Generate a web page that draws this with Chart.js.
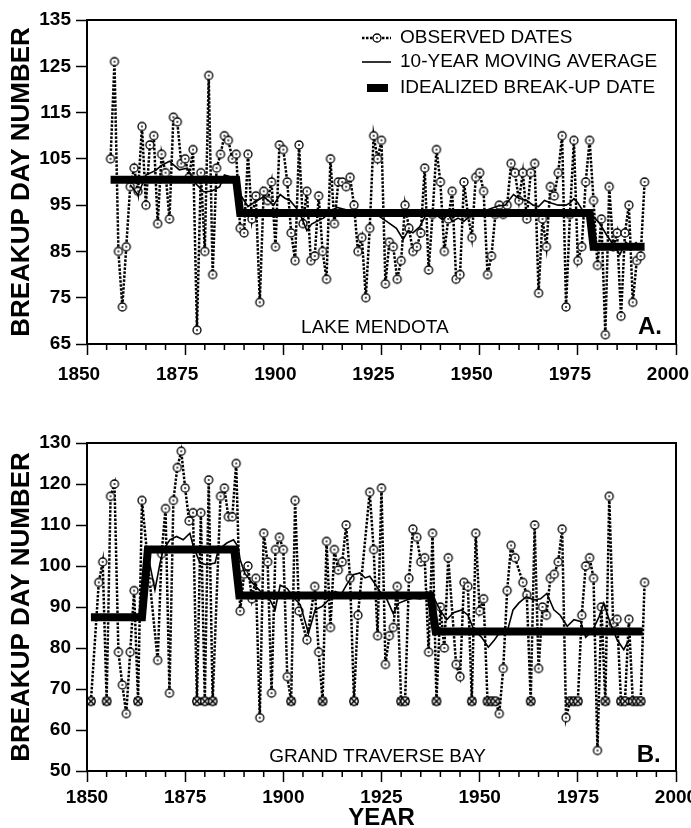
<!DOCTYPE html>
<html>
<head>
<meta charset="utf-8">
<script src="https://cdn.jsdelivr.net/npm/chart.js@4.4.1/dist/chart.umd.min.js"></script>
<style>
  body { margin: 0; background: #fff; }
  #wrapA { position: absolute; left: 0; top: 0; width: 691px; height: 392px; }
  #wrapB { position: absolute; left: 0; top: 392px; width: 691px; height: 436px; }
</style>
</head>
<body>
<div id="wrapA"><canvas id="chartA" width="691" height="392"></canvas></div>
<div id="wrapB"><canvas id="chartB" width="691" height="436"></canvas></div>
<script>
// ---- Lake Mendota (panel A) ----
var mendotaFirstYear = 1856;
var mendotaObserved = [
  105,126,85,73,86,99,103,98,112,95,
  108,110,91,106,102,92,114,113,104,105,
  101,107,68,102,85,123,80,103,106,110,
  109,105,106,90,89,106,92,97,74,98,
  96,100,86,108,107,100,89,83,108,91,
  98,83,84,97,85,79,105,91,100,100,
  99,101,95,85,88,75,90,110,105,109,
  78,87,86,79,83,95,90,85,86,89,
  103,81,93,107,100,85,92,98,79,80,
  100,93,88,101,102,98,80,84,93,95,
  93,95,104,102,96,102,92,102,104,76,
  92,86,99,97,102,110,73,93,109,83,
  86,100,109,96,82,92,67,99,86,89,
  71,89,95,74,83,84,100
];
var mendotaAvgYears = [1861,1863,1865,1867.5,1869,1871,1873.5,1875.5,1877.6,1879.7,
  1881.7,1883.8,1885,1887,1888.5,1890,1891,1892.4,1895,1896.2,
  1897.5,1899.2,1900.4,1901.7,1903.4,1904.7,1906,1907.2,1908.5,1910.2,
  1911.9,1913.6,1916,1918.7,1921.2,1923.7,1926.3,1928.8,1930.5,1931.8,
  1933,1934.7,1936.4,1938,1940.6,1942,1943,1944.5,1946,1948,
  1950,1952,1954.7,1956.5,1958.6,1960,1962,1963.6,1965,1966.5,
  1968,1970,1972,1973,1974,1975,1976.5,1978,1979,1980.6,
  1982.3,1984,1985.7,1987.2,1988.5,1990];
var mendotaAvg = [99.4,97.2,101.5,102.5,103.6,104.5,102.6,103,99.7,97.9,
  98,99,101.5,101,98,96,94.7,95.5,96.8,96,
  95,97.3,96.5,96,94.3,92.2,89.5,90.9,91.5,92.2,
  93.5,94.5,94,93.5,93.8,93,91.5,90,87.6,89.5,
  89,90.3,93,93.5,91.8,93,91.5,92.2,91.5,93,
  93.5,94,94.8,95,97.3,96.5,96,95,94.7,96,
  95.5,95,95,95.5,96.4,95.5,93.5,93,92.5,91,
  88.6,86.5,84.3,87,86,87];
var mendotaIdealYears = [1856, 1888, 1889, 1978, 1979, 1992];
var mendotaIdeal = [100.5, 100.5, 93.3, 93.3, 86, 86];

// ---- Grand Traverse Bay (panel B) ----
var gtbYears = [1851,1853,1854,1855,1856,1857,1858,1859,1860,1861,1862,1863,1864,1866,1868,1869,1870,
  1871,1872,1873,1874,1875,1876,1877,1878,1879,1880,1881,1882,1884,1885,1886,1887,1888,1889,
  1890,1891,1892,1893,1894,1895,1896,1897,1898,1899,1900,1901,1902,1903,1904,1906,1908,1909,
  1910,1911,1912,1913,1914,1915,1916,1917,1918,1919,1922,1923,1924,1925,1926,1927,1928,1929,
  1930,1931,1932,1933,1934,1935,1936,1937,1938,1939,1940,1941,1942,1944,1945,1946,1947,1948,1949,
  1950,1951,1952,1953,1954,1955,1956,1957,1958,1959,1961,1962,1963,1964,1965,1966,1967,1968,1969,
  1970,1971,1972,1973,1974,1975,1976,1977,1978,1979,1980,1981,1982,1983,1984,1985,1986,1987,1988,
  1989,1990,1991,1992];
var gtbObserved = [67,96,101,67,117,120,79,71,64,79,94,67,116,96,77,103,114,
  69,116,124,128,119,111,113,67,113,67,121,67,117,119,112,112,125,89,
  98,100,92,97,63,108,101,69,104,107,104,73,67,116,89,82,95,79,
  67,106,85,104,99,101,110,97,67,88,118,104,83,119,76,83,85,95,
  67,67,97,109,107,101,102,79,108,67,90,80,102,76,73,96,95,67,108,
  89,92,67,67,67,64,75,94,105,102,96,93,67,110,75,90,88,97,98,
  101,109,63,67,67,67,88,100,102,97,55,90,67,117,86,87,67,67,87,
  67,67,67,96];
// winters plotted with the crossed symbol
var gtbNoBreakupYears = [1851,1855,1863,1878,1880,1882,1902,1910,1918,1930,1931,1939,1948,
  1952,1953,1954,1963,1973,1974,1975,1982,1986,1987,1989,1990,1991];
var gtbAvgYears = [1857.5,1862,1864,1865.2,1866.1,1867.3,1868.6,1869.4,1871.1,1872.8,
  1874.5,1876.2,1877.1,1878.8,1880.5,1882.6,1883.4,1885.6,1887.3,1888.5,
  1889,1890.2,1892,1894,1896.6,1897.9,1899.2,1901,1902.6,1904.3,
  1906.4,1908.1,1909.8,1911.5,1913.2,1914.8,1916.1,1917.8,1919.5,1920.8,
  1922,1923.5,1924.6,1926.3,1928,1929.3,1931.4,1933.1,1935,1936.5,
  1938.2,1939.9,1941.6,1943.3,1945.4,1947,1948.5,1950.5,1952.2,1953.8,
  1955.6,1957,1958.5,1960,1961.9,1963.8,1965.5,1967.1,1968.9,1970.5,
  1972.3,1974,1975.7,1977,1978.7,1980.4,1981.6,1983.3,1985,1986.7,1988];
var gtbAvg = [87.5,87,87.5,103.9,99.9,94.2,100.7,103.9,106.4,107.2,
  106.4,108,104.7,100.7,100.3,100.7,103.9,105.6,106.4,104.7,
  101.5,98.2,96,94,91.7,89.3,95.3,94.5,92.3,90.6,
  83.6,89.3,90.1,91.7,93.8,93.2,95.4,97.9,98.3,97.1,
  97.5,95.4,93.8,92,88.4,90.9,91.7,92.2,92,93.8,
  92.5,89.3,86.9,88.6,89.3,88,84.5,82.6,80.2,82,
  84.5,84,89.3,91,92.5,91.7,92,93.3,89.3,88,
  85.3,86.9,86.5,82.6,84.2,87.6,90.9,86,82,79.6,82];
var gtbIdealYears = [1851, 1864, 1865.5, 1887.5, 1888.8, 1937.5, 1938.8, 1991.5];
var gtbIdeal = [87.5, 87.5, 104, 104, 92.8, 92.8, 84, 84];

var seriesLabels = ['OBSERVED DATES', '10-YEAR MOVING AVERAGE', 'IDEALIZED BREAK-UP DATE'];

var FONT = "'Liberation Sans', Arial, Helvetica, sans-serif";
Chart.defaults.font.family = FONT;
Chart.defaults.color = '#000';

function zip(xs, ys) {
  var out = [];
  for (var i = 0; i < xs.length; i++) out.push({ x: xs[i], y: ys[i] });
  return out;
}

// open circle with a dot in the middle
function circleMarker() {
  var c = document.createElement('canvas');
  c.width = 12; c.height = 12;
  var g = c.getContext('2d');
  g.beginPath(); g.arc(6, 6, 4, 0, Math.PI * 2);
  g.fillStyle = '#fff'; g.fill();
  g.lineWidth = 1.3; g.strokeStyle = '#000'; g.stroke();
  g.beginPath(); g.arc(6, 6, 0.9, 0, Math.PI * 2);
  g.fillStyle = '#000'; g.fill();
  return c;
}
// circle with a cross (no break-up year)
function crossMarker() {
  var c = document.createElement('canvas');
  c.width = 12; c.height = 12;
  var g = c.getContext('2d');
  g.beginPath(); g.arc(6, 6, 4.2, 0, Math.PI * 2);
  g.fillStyle = '#fff'; g.fill();
  g.lineWidth = 1.5; g.strokeStyle = '#000'; g.stroke();
  g.beginPath();
  g.moveTo(2.3, 2.3); g.lineTo(9.7, 9.7);
  g.moveTo(9.7, 2.3); g.lineTo(2.3, 9.7);
  g.stroke();
  return c;
}
var circleImg = circleMarker();
var crossImg = crossMarker();

var panelPlugin = {
  id: 'panel',
  afterDraw: function (chart, args, opts) {
    var ctx = chart.ctx, a = chart.chartArea;
    var xs = chart.scales.x, ys = chart.scales.y;
    ctx.save();
    // frame
    ctx.strokeStyle = '#000';
    ctx.lineWidth = 2;
    ctx.strokeRect(a.left, a.top, a.right - a.left, a.bottom - a.top);
    // minor year ticks
    ctx.lineWidth = 1.5;
    ctx.beginPath();
    for (var yr = 1855; yr < 2000; yr += 5) {
      if (yr % 25 === 0) continue;
      var px = xs.getPixelForValue(yr);
      ctx.moveTo(px, a.bottom);
      ctx.lineTo(px, a.bottom + 6);
    }
    ctx.stroke();
    // lake name and panel letter
    ctx.fillStyle = '#000';
    ctx.textBaseline = 'middle';
    ctx.textAlign = 'center';
    ctx.font = '19px ' + FONT;
    ctx.fillText(opts.name, xs.getPixelForValue(opts.nameAt[0]), ys.getPixelForValue(opts.nameAt[1]));
    ctx.textAlign = 'left';
    ctx.font = 'bold 24px ' + FONT;
    ctx.fillText(opts.letter, xs.getPixelForValue(opts.letterAt[0]), ys.getPixelForValue(opts.letterAt[1]));
    // legend inside the plot
    if (opts.legend) {
      var x0 = a.left + 275, x1 = a.left + 304, tx = a.left + 313;
      var rows = [a.top + 18, a.top + 42, a.top + 68];
      ctx.font = '19px ' + FONT;
      ctx.textAlign = 'left';
      // observed
      ctx.lineWidth = 2.5;
      ctx.setLineDash([2.5, 1.5]);
      ctx.beginPath(); ctx.moveTo(x0, rows[0]); ctx.lineTo(x1, rows[0]); ctx.stroke();
      ctx.setLineDash([]);
      ctx.drawImage(circleImg, Math.round((x0 + x1) / 2 - 6), Math.round(rows[0] - 6));
      ctx.fillText(seriesLabels[0], tx, rows[0]);
      // moving average
      ctx.lineWidth = 1.6;
      ctx.beginPath(); ctx.moveTo(x0, rows[1]); ctx.lineTo(x1, rows[1]); ctx.stroke();
      ctx.fillText(seriesLabels[1], tx, rows[1]);
      // idealized
      ctx.fillRect(x0 + 5, rows[2] - 4, x1 - x0 - 8, 8);
      ctx.fillText(seriesLabels[2], tx, rows[2]);
    }
    ctx.restore();
  }
};

function plainNumber(v) { return String(v); }

function makePanel(id, p) {
  return new Chart(document.getElementById(id), {
    type: 'line',
    data: {
      datasets: [
        {
          label: seriesLabels[0],
          data: p.observed,
          borderColor: '#000',
          borderWidth: 2.5,
          borderDash: [2.5, 1.5],
          pointStyle: function (c) {
            return (c.raw && p.crossYears.indexOf(c.raw.x) >= 0) ? crossImg : circleImg;
          },
          pointRadius: 4,
          tension: 0,
          order: 3
        },
        {
          label: seriesLabels[2],
          data: p.ideal,
          borderColor: '#000',
          borderWidth: 8,
          borderCapStyle: 'butt',
          borderJoinStyle: 'miter',
          pointRadius: 0,
          tension: 0,
          order: 2
        },
        {
          label: seriesLabels[1],
          data: p.avg,
          borderColor: '#000',
          borderWidth: 1.6,
          pointRadius: 0,
          tension: 0,
          order: 1
        }
      ]
    },
    options: {
      responsive: false,
      animation: false,
      events: [],
      layout: { padding: { top: p.padTop, right: 15, left: 0, bottom: 0 } },
      plugins: {
        legend: { display: false },
        tooltip: { enabled: false },
        panel: p.panel
      },
      scales: {
        x: {
          type: 'linear',
          min: 1850,
          max: 2000,
          ticks: {
            stepSize: 25,
            autoSkip: false,
            maxRotation: 0,
            padding: p.xPad,
            labelOffset: p.labelOffset,
            color: '#000',
            font: { size: 19, weight: 'bold' },
            callback: plainNumber
          },
          grid: { drawOnChartArea: false, drawTicks: true, tickLength: 11, tickColor: '#000', tickWidth: 1.5 },
          border: { display: false },
          title: p.xTitle,
          afterFit: function (s) { s.height = p.xHeight; s.paddingLeft = 0; s.paddingRight = 0; }
        },
        y: {
          min: p.yMin,
          max: p.yMax,
          ticks: { stepSize: 10, padding: 5, color: '#000', font: { size: 19, weight: 'bold' }, callback: plainNumber },
          grid: { drawOnChartArea: false, drawTicks: true, tickLength: 11, tickColor: '#000', tickWidth: 1.5 },
          border: { display: false },
          title: {
            display: true,
            text: 'BREAKUP DAY NUMBER',
            color: '#000',
            font: { size: 26, weight: 'bold', lineHeight: 1.2 },
            padding: { top: 6, bottom: 0 }
          },
          afterFit: function (s) { s.width = 87; }
        }
      }
    },
    plugins: [panelPlugin]
  });
}

var mendotaYears = [];
for (var i = 0; i < mendotaObserved.length; i++) mendotaYears.push(mendotaFirstYear + i);

makePanel('chartA', {
  observed: zip(mendotaYears, mendotaObserved),
  avg: zip(mendotaAvgYears, mendotaAvg),
  ideal: zip(mendotaIdealYears, mendotaIdeal),
  crossYears: [],
  yMin: 65, yMax: 135,
  padTop: 20, xHeight: 48, xPad: 8, labelOffset: -8,
  xTitle: { display: false },
  panel: { name: 'LAKE MENDOTA', nameAt: [1923.3, 68.5], letter: 'A.', letterAt: [1990.3, 68.6], legend: true }
});

makePanel('chartB', {
  observed: zip(gtbYears, gtbObserved),
  avg: zip(gtbAvgYears, gtbAvg),
  ideal: zip(gtbIdealYears, gtbIdeal),
  crossYears: gtbNoBreakupYears,
  yMin: 50, yMax: 130,
  padTop: 51, xHeight: 57, xPad: 4, labelOffset: 0,
  xTitle: {
    display: true,
    text: 'YEAR',
    color: '#000',
    font: { size: 24, weight: 'bold', lineHeight: 0.8 },
    padding: { top: 0, bottom: 0 }
  },
  panel: { name: 'GRAND TRAVERSE BAY', nameAt: [1924, 53.4], letter: 'B.', letterAt: [1990, 53.8], legend: false }
});
</script>
</body>
</html>
